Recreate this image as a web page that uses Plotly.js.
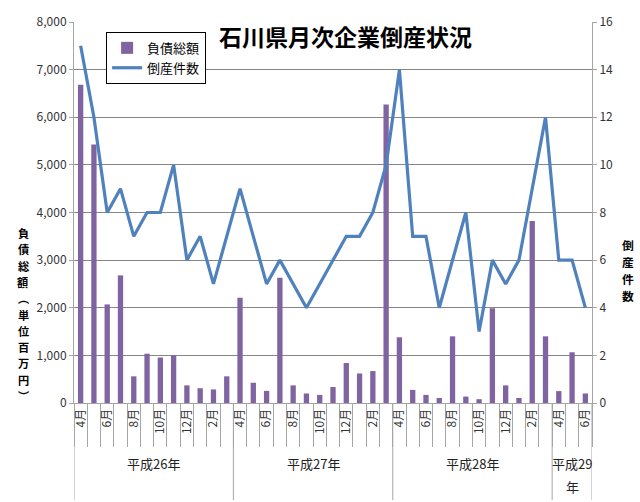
<!DOCTYPE html>
<html>
<head>
<meta charset="utf-8">
<script src="https://cdn.plot.ly/plotly-3.0.1.min.js"></script>
<style>
  html, body { margin: 0; padding: 0; background: #fff; }
  #chart { width: 640px; height: 502px; }
</style>
</head>
<body>
<div id="chart"></div>
<script>
// 月ラベル（平成26年4月〜平成29年6月）
const months = [
  '4月','5月','6月','7月','8月','9月','10月','11月','12月','1月','2月','3月',
  '4月','5月','6月','7月','8月','9月','10月','11月','12月','1月','2月','3月',
  '4月','5月','6月','7月','8月','9月','10月','11月','12月','1月','2月','3月',
  '4月','5月','6月',
];
const years = ['平成26年', '平成27年', '平成28年', '平成29年'];
const yearSpan = [12, 12, 12, 3];

// 負債総額（百万円）
const debt = [
  6680, 5430, 2070, 2680, 560, 1035, 955, 1000, 370, 310, 285, 560,
  2210, 425, 255, 2630, 370, 200, 170, 335, 840, 620, 670, 6270,
  1380, 275, 170, 105, 1400, 135, 80, 1990, 370, 105, 3820, 1400,
  250, 1065, 200,
];
// 倒産件数
const cases = [
  15, 12, 8, 9, 7, 8, 8, 10, 6, 7, 5, 7,
  9, 7, 5, 6, 5, 4, 5, 6, 7, 7, 8, 10,
  14, 7, 7, 4, 6, 8, 3, 6, 5, 6, 9, 12,
  6, 6, 4,
];

const idx = months.map((_, i) => i);
const font = 'Noto Sans CJK JP, Noto Sans, sans-serif';
const grid = '#868686';
const axisLine = '#a6a6a6';
const plotH = 381;

// 年の区切り
const bounds = [-0.5];
yearSpan.forEach(n => bounds.push(bounds[bounds.length - 1] + n));
const yearMid = years.map((_, i) => (bounds[i] + bounds[i + 1]) / 2);

const shapes = bounds.map(b => ({
  type: 'line', xref: 'x', yref: 'paper',
  x0: b, x1: b, y0: 0, y1: -0.255,
  line: { color: axisLine, width: 1 },
}));
// タイトル背景
shapes.push({
  type: 'rect', xref: 'paper', yref: 'paper', layer: 'above',
  x0: 0.276, x1: 0.774, y0: 0.905, y1: 1.04,
  fillcolor: '#fff', line: { width: 0 },
});

const annotations = [];
const yearLabel = (text, x, y) => annotations.push({
  text, xref: 'x', yref: 'paper', x, y,
  xanchor: 'center', yanchor: 'middle', showarrow: false, borderpad: 0,
  font: { family: font, size: 13, color: '#222' },
});
years.forEach((y, i) => {
  if (yearSpan[i] < 6) {
    // 幅が狭いので「年」を折り返す
    yearLabel(y.slice(0, -1), yearMid[i], -(463 - 403) / plotH);
    yearLabel(y.slice(-1), yearMid[i], -(486 - 403) / plotH);
  } else {
    yearLabel(y, yearMid[i], -(463 - 403) / plotH);
  }
});

// 縦書きの軸タイトル（1文字ずつ）
const vertical = (s, x, yTop, step, size) => [...s].forEach((c, i) => annotations.push({
  text: c, xref: 'paper', yref: 'paper',
  x, y: yTop - i * step / plotH, xanchor: 'center', yanchor: 'middle',
  showarrow: false, borderpad: 0,
  font: { family: font, size, color: '#000', weight: 'bold' },
}));
vertical('負債総額︵単位百万円︶', -0.098, (403 - 233) / plotH, 16.3, 11.2);
vertical('倒産件数', 1.069, (403 - 244) / plotH, 17.2, 11.8);

Plotly.newPlot('chart', [
  {
    type: 'bar', name: '負債総額',
    x: idx, y: debt, width: 0.4,
    marker: { color: '#8064a2' },
  },
  {
    type: 'scatter', mode: 'lines', name: '倒産件数',
    x: idx, y: cases, yaxis: 'y2',
    line: { color: '#4f81bd', width: 3.2 },
  },
], {
  width: 640, height: 502,
  paper_bgcolor: '#fff', plot_bgcolor: '#fff',
  font: { family: font, size: 12, color: '#333' },
  margin: { l: 74, r: 48, t: 22, b: 99 },
  title: {
    text: '石川県月次企業倒産状況',
    x: 0.54, y: 0.925, xanchor: 'center', yanchor: 'middle',
    font: { family: font, size: 23, color: '#000', weight: 'bold' },
  },
  showlegend: true,
  legend: {
    x: 0.062, y: 0.974, xanchor: 'left', yanchor: 'top',
    bgcolor: '#fff', bordercolor: '#000', borderwidth: 1,
    font: { family: font, size: 13, color: '#000' },
    tracegroupgap: 4,
  },
  xaxis: {
    range: [-0.5, 38.5],
    tickmode: 'array',
    tickvals: idx.filter(i => i % 2 === 0),
    ticktext: idx.filter(i => i % 2 === 0).map(i => months[i]),
    tickangle: -90,
    ticks: '',
    tickfont: { size: 12, color: '#333' },
    minor: { tickmode: 'linear', tick0: 0.5, dtick: 1, ticks: 'outside', ticklen: 43, tickcolor: axisLine, showgrid: false },
    showgrid: false, zeroline: false,
    showline: true, linecolor: axisLine,
    fixedrange: true,
  },
  yaxis: {
    range: [0, 8000], dtick: 1000, tickformat: ',d',
    gridcolor: grid, zeroline: false,
    showline: true, linecolor: axisLine,
    ticks: 'outside', ticklen: 4, tickcolor: axisLine,
    tickfont: { size: 12, color: '#333' },
  },
  yaxis2: {
    range: [0, 16], dtick: 2, overlaying: 'y', side: 'right',
    showgrid: false, zeroline: false,
    showline: true, linecolor: axisLine,
    ticks: 'outside', ticklen: 4, tickcolor: axisLine,
    tickfont: { size: 12, color: '#333' },
  },
  shapes, annotations,
}, { displayModeBar: false, staticPlot: true });
</script>
</body>
</html>
